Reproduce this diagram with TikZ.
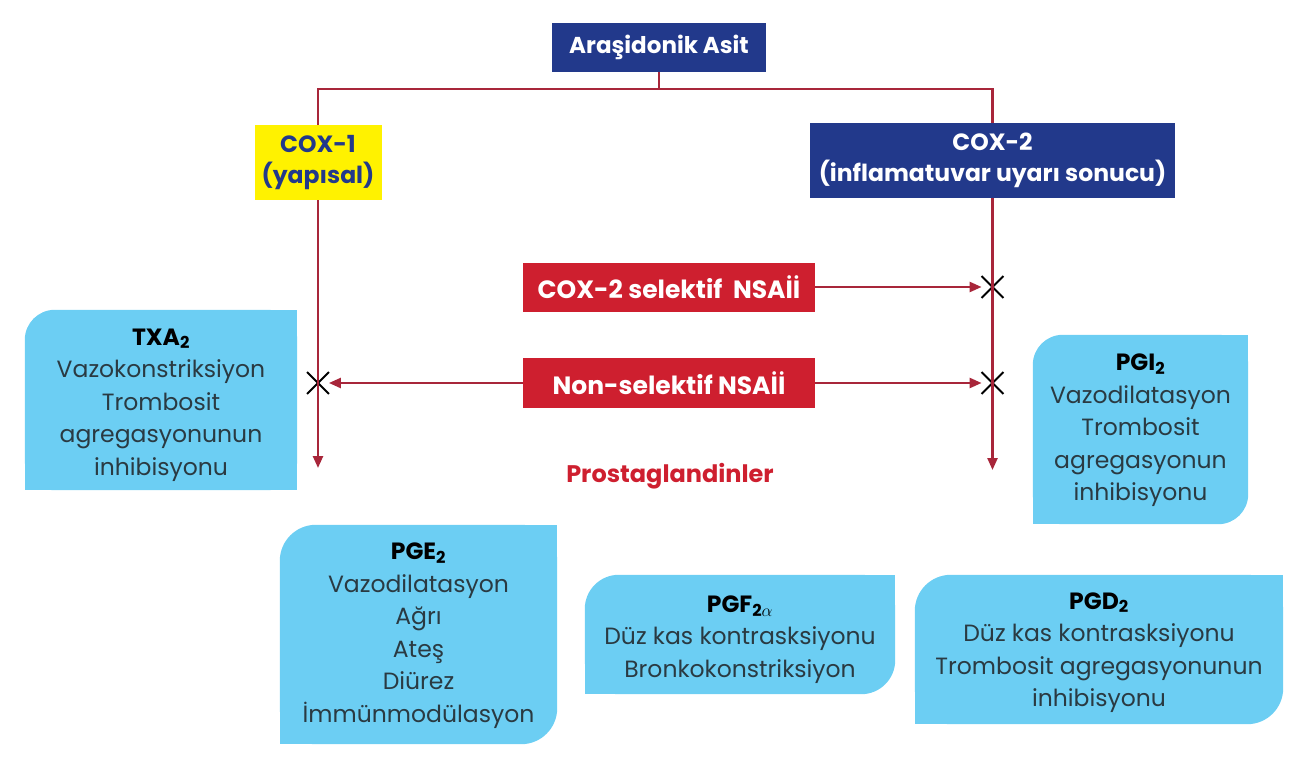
\documentclass[tikz,border=0pt]{standalone}
\usepackage{fontspec}
\setmainfont{Poppins}
\usetikzlibrary{shapes.misc,arrows.meta,backgrounds}
\definecolor{navy}{HTML}{22398B}
\definecolor{lblue}{HTML}{6CCEF3}
\definecolor{nsred}{HTML}{CE1F2F}
\definecolor{lnred}{HTML}{A8263A}
\definecolor{txt}{HTML}{2A3A42}
\definecolor{cyel}{HTML}{FFF200}
\begin{document}
\begin{tikzpicture}[x=1pt,y=-1pt,
  conn/.style={draw=lnred, line width=2.4pt},
  arr/.style={conn, -{Triangle[length=12pt,width=10pt]}},
  hdr/.style={inner sep=0pt, align=center, font=\fontsize{23}{29}\selectfont\bfseries},
  pbox/.style={inner sep=0pt, align=center, text=txt, font=\fontsize{23.5}{32.5}\selectfont},
  xmark/.style={cross out, draw=black, line width=1.8pt, minimum size=20pt, inner sep=0pt},
]
\useasboundingbox (0,0) rectangle (1300,762);

% header boxes
\node[hdr, fill=navy, text=white, minimum width=214pt, minimum height=49pt] (asit) at (659,47.5) {Araşidonik Asit};
\node[hdr, fill=cyel, text=navy, minimum width=127pt, minimum height=75pt, font=\fontsize{23.5}{31}\selectfont\bfseries] (cox1) at (318,162.5) {COX-1\\(yapısal)};
\node[hdr, fill=navy, text=white, minimum width=365pt, minimum height=75pt, font=\fontsize{23.5}{31}\selectfont\bfseries] (cox2) at (992.5,160.5) {COX-2\\(inflamatuvar uyarı sonucu)};

% drug boxes
\node[hdr, fill=nsred, text=white, minimum width=292pt, minimum height=49pt, font=\fontsize{25}{29}\selectfont\bfseries] (sel) at (669,287) {COX-2 selektif\ \ NSAİİ};
\node[hdr, fill=nsred, text=white, minimum width=292pt, minimum height=50pt, font=\fontsize{25}{29}\selectfont\bfseries] (nons) at (669,383) {Non-selektif NSAİİ};

% X marks
\node[xmark] (xs) at (992.5,287) {};
\node[xmark] (xr) at (992.5,383) {};
\node[xmark] (xl) at (318,383) {};

% ends of vertical arrows
\coordinate (lend) at (318,468);
\coordinate (rend) at (992.5,470);
\coordinate (jn) at (659,89);

\node[text=nsred, font=\fontsize{24}{28}\selectfont\bfseries, inner sep=0pt] (pros) at (670,476) {Prostaglandinler};

% prostaglandin boxes (yshift moves text down; background compensates)
\node[pbox, minimum width=272pt, minimum height=180pt, yshift=-5pt] (txa) at (161,400)
  {{\bfseries\color{black}TXA\textsubscript{2}}\\Vazokonstriksiyon\\Trombosit\\agregasyonunun\\inhibisyonu};
\node[pbox, minimum width=215pt, minimum height=189pt, yshift=-1pt] (pgi) at (1140.5,429.5)
  {{\bfseries\color{black}PGI\textsubscript{2}}\\Vazodilatasyon\\Trombosit\\agregasyonun\\inhibisyonu};
\node[pbox, minimum width=277pt, minimum height=219pt, yshift=-1pt] (pge) at (418.5,634.5)
  {{\bfseries\color{black}PGE\textsubscript{2}}\\Vazodilatasyon\\Ağrı\\Ateş\\Diürez\\İmmünmodülasyon};
\node[pbox, minimum width=310pt, minimum height=119pt, yshift=-5pt] (pgf) at (740,634.5)
  {{\bfseries\color{black}PGF\textsubscript{2$\alpha$}}\\Düz kas kontrasksiyonu\\Bronkokonstriksiyon};
\node[pbox, minimum width=368pt, minimum height=149pt, yshift=-3pt] (pgd) at (1099,649.5)
  {{\bfseries\color{black}PGD\textsubscript{2}}\\Düz kas kontrasksiyonu\\Trombosit agregasyonunun\\inhibisyonu};

\begin{scope}[on background layer]
  % TXA: only top-left rounded
  \fill[lblue, rounded corners=30pt] ([yshift=5pt]txa.north west) rectangle ([yshift=5pt]txa.south east);
  \fill[lblue] ([yshift=5pt]txa.north east) rectangle ++(-40,40);
  \fill[lblue] ([yshift=5pt]txa.south west) rectangle ++(40,-40);
  \fill[lblue] ([yshift=5pt]txa.south east) rectangle ++(-40,-40);
  % others: top-left and bottom-right rounded
  \foreach \n/\r/\s in {pgi/30/1, pge/36/1, pgf/34/5, pgd/36/3}{
    \fill[lblue, rounded corners=\r pt] ([yshift=\s pt]\n.north west) rectangle ([yshift=\s pt]\n.south east);
    \fill[lblue] ([yshift=\s pt]\n.north east) rectangle ++(-40,40);
    \fill[lblue] ([yshift=\s pt]\n.south west) rectangle ++(40,-40);
  }
\end{scope}

% connectors
\draw[conn] (asit.south) -- (jn);
\draw[conn] (cox1.north) |- (jn) -| (cox2.north);
\draw[arr] (cox1.south) -- (lend);
\draw[arr] (cox2.south) -- (rend);
\draw[arr] (sel.east) -- (xs.west);
\draw[arr] (nons.east) -- (xr.west);
\draw[arr] (nons.west) -- (xl.east);
\end{tikzpicture}
\end{document}
